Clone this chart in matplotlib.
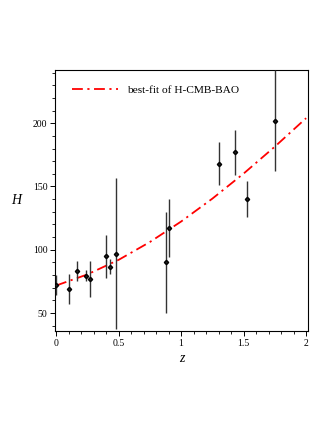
import numpy as np
import matplotlib.pyplot as plt
from matplotlib.ticker import MultipleLocator

plt.rcParams['font.family'] = ['Liberation Serif', 'DejaVu Serif']

z_obs = [0.0, 0.10, 0.17, 0.24, 0.27, 0.40, 0.43, 0.48, 0.88, 0.90, 1.30, 1.43, 1.53, 1.75]
h_obs = [72, 69, 83, 79.5, 77, 95, 86.5, 97, 90, 117, 168, 177, 140, 202]
h_err = [8, 12, 8, 4.5, 14, 17, 6, 60, 40, 23, 17, 18, 14, 40]

# best-fit curve, values
z_fit = [0.0, 0.25, 0.5, 0.75, 1.0, 1.25, 1.5, 1.75, 2.0]
h_fit = [71.7, 80.5, 92.0, 106.1, 122.3, 140.4, 160.2, 181.5, 204.0]

fig = plt.figure(figsize=(3.32, 4.30), dpi=100)
ax = fig.add_axes([0.166, 0.230, 0.762, 0.607])

ax.plot(z_fit, h_fit, color='red', lw=1.3, ls=(0, (6, 2.5, 1.2, 2.5)),
        label='best-fit of H-CMB-BAO')
ax.errorbar(z_obs, h_obs, yerr=h_err, fmt='D', ms=2.2, color='#222222',
            mfc='#222222', mec='black', ecolor='#333333', elinewidth=1.0,
            capsize=0, zorder=3)

ax.set_xlim(-0.008, 2.016)
ax.set_ylim(35.7, 242)
ax.xaxis.set_major_locator(MultipleLocator(0.5))
ax.xaxis.set_minor_locator(MultipleLocator(0.1))
ax.yaxis.set_major_locator(MultipleLocator(50))
ax.yaxis.set_minor_locator(MultipleLocator(10))
ax.xaxis.set_major_formatter(plt.FuncFormatter(lambda v, p: '%g' % v))
ax.tick_params(which='major', direction='out', length=3.5, width=0.7,
               labelsize=7, top=False, right=False, pad=2)
ax.tick_params(which='minor', direction='out', length=2, width=0.6,
               top=False, right=False)
for s in ax.spines.values():
    s.set_linewidth(0.8)

ax.set_xlabel('z', fontsize=10, fontstyle='italic', labelpad=3)
ax.set_ylabel('H', fontsize=10, fontstyle='italic', rotation=0, labelpad=12,
              va='center')

ax.legend(loc='upper left', frameon=False, fontsize=8.2, handlelength=4.0,
          handletextpad=0.8, bbox_to_anchor=(0.036, 0.975), borderaxespad=0.3)

fig.savefig('out.png', dpi=100)
